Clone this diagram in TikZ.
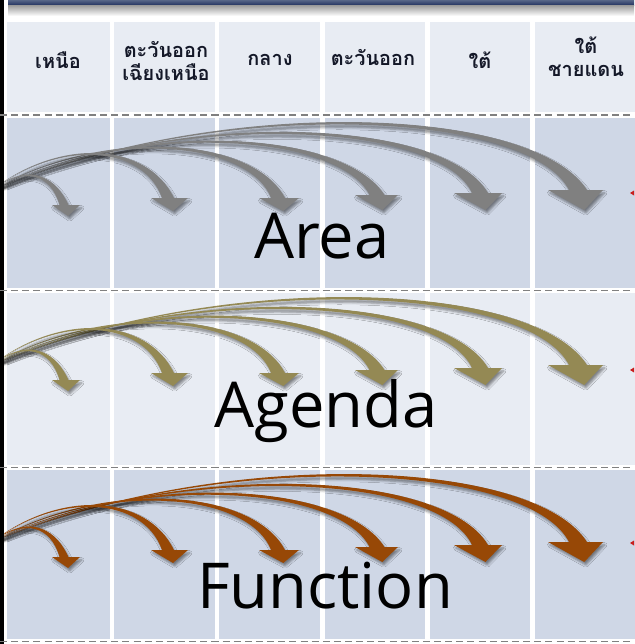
\documentclass[tikz,border=0pt]{standalone}
\usepackage{fontspec}
\setmainfont{Open Sans}
\newfontfamily\thaifont[Script=Thai]{Loma}
\usetikzlibrary{calc,shadows.blur}

\definecolor{cellblue}{RGB}{207,215,230}
\definecolor{celllight}{RGB}{232,236,243}
\definecolor{headtext}{RGB}{20,24,40}
\definecolor{areagray}{RGB}{128,128,128}
\definecolor{agendaolive}{RGB}{148,137,84}
\definecolor{functionbrown}{RGB}{151,72,6}
\definecolor{bartop}{RGB}{118,132,158}
\definecolor{barnavy}{RGB}{36,52,98}
\definecolor{edgered}{RGB}{200,30,30}

\tikzstyle{headcell} = [font=\thaifont\bfseries\fontsize{17}{20}\selectfont, text=headtext, align=center]
\tikzstyle{bigword} = [font=\fontsize{54}{54}\selectfont, text=black, anchor=base, inner sep=0pt]
\tikzstyle{rowline} = [draw=black!50, line width=1.2pt, dash pattern=on 6pt off 3.5pt]
\tikzstyle{arrowshadow} = [blur shadow={shadow xshift=1.5pt, shadow yshift=-2.5pt, shadow blur radius=2pt, shadow opacity=45}]

% one bent arrow: colour, control 1, control 2, head x, head y, half body, left barb, right barb, head length
\newcommand{\fanarrow}[9]{%
  \fill[#1, arrowshadow] (-8,190)
    .. controls ($#2+(0,-1)$) and ($#3+({0.3*#6},0)$) .. ({#4+#6},#5)
    -- ({#4+#8},#5) -- ({#4+0.25*#8},{#5+#9}) -- ({#4-#7},#5) -- ({#4-#6},#5)
    .. controls ($#3+({-0.3*#6},{0.5*#6})$) and ($#2+(0,1)$) .. (-8,190) -- cycle;}

% the six arrows of one row
\newcommand{\arrowfan}[1]{%
  \fanarrow{#1}{(220,95)}{(530,105)}{578}{190}{9}{30}{25}{20}
  \fanarrow{#1}{(170,110)}{(440,115)}{480}{193}{8}{26}{22}{17}
  \fanarrow{#1}{(130,120)}{(340,128)}{377}{195}{7.5}{22}{21}{15}
  \fanarrow{#1}{(100,128)}{(250,135)}{278}{198}{7}{19}{21}{13}
  \fanarrow{#1}{(60,138)}{(145,142)}{168}{198}{6}{17}{20}{13}
  \fanarrow{#1}{(25,165)}{(52,172)}{64}{205}{4.5}{12}{16}{11}}

\begin{document}
\begin{tikzpicture}[x=0.03cm, y=-0.03cm]
  \useasboundingbox (0,0) rectangle (634,644);

  % Title bar
  \shade[top color=bartop, bottom color=barnavy] (8,-3) rectangle (634,5);
  \shade[top color=black!40, bottom color=white] (8,5) rectangle (634,16);

  % Cells
  \foreach \xl/\xr in {7/110, 114/215, 219/320, 325/425, 430/530, 535/640} {
    \fill[celllight] (\xl,22) rectangle (\xr,112);
    \fill[cellblue] (\xl,118) rectangle (\xr,288);
    \fill[celllight] (\xl,293) rectangle (\xr,465);
    \fill[cellblue] (\xl,470) rectangle (\xr,639);
  }

  % Region headings
  \node(north) [headcell] at (58,60) {เหนือ};
  \node(northeast) [headcell] at (166,61) {ตะวันออก\\เฉียงเหนือ};
  \node(central) [headcell] at (270,60) {กลาง};
  \node(east) [headcell] at (373,58) {ตะวันออก};
  \node(south) [headcell] at (480,60) {ใต้};
  \node(border) [headcell] at (586,57) {ใต้\\ชายแดน};

  % Arrows
  \arrowfan{areagray}
  \begin{scope}[shift={(0,175)}]
    \arrowfan{agendaolive}
  \end{scope}
  \begin{scope}[shift={(0,352)}]
    \arrowfan{functionbrown}
  \end{scope}

  % Row words
  \node(area) [bigword] at (322,258) {Area};
  \node(agenda) [bigword] at (326,427) {Agenda};
  \node(function) [bigword] at (325,608) {Function};

  % Cut arrow tips at the right edge
  \fill[edgered] (630,193) -- (634,190.5) -- (634,195.5) -- cycle;
  \fill[edgered] (630,370) -- (634,367.5) -- (634,372.5) -- cycle;
  \fill[edgered] (630,543) -- (634,540.5) -- (634,545.5) -- cycle;

  % Left edge and row lines
  \fill[black] (0,0) rectangle (4,644);
  \draw[rowline] (0,115) -- (634,115);
  \draw[rowline] (0,290.5) -- (634,290.5);
  \draw[rowline] (0,467.5) -- (634,467.5);
  \draw[rowline] (0,641.5) -- (634,641.5);
\end{tikzpicture}
\end{document}
